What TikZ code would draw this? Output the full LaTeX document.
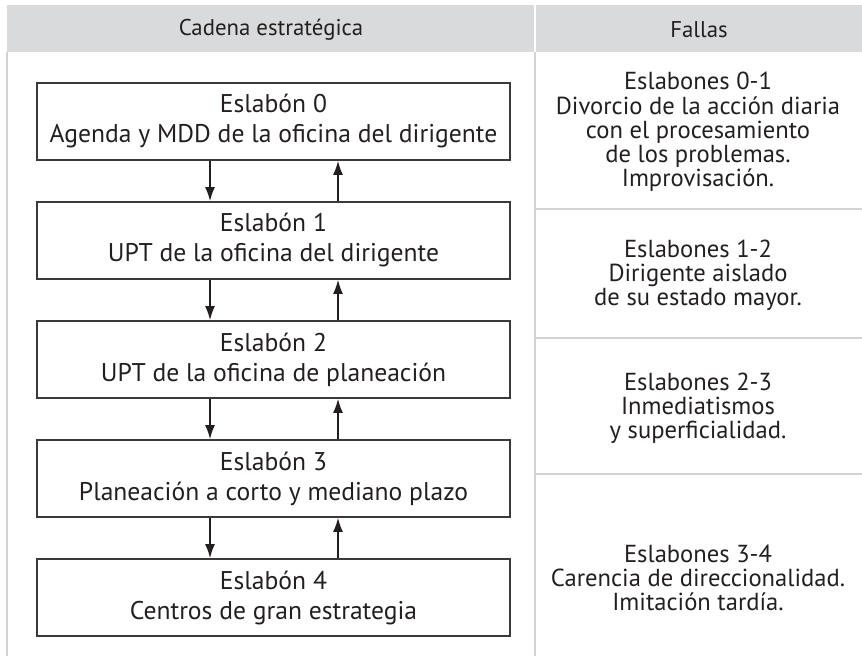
\documentclass[tikz,border=0pt]{standalone}
\usepackage{fontspec}
\setmainfont{PT Sans}
\usetikzlibrary{arrows.meta, positioning}
\definecolor{headgray}{HTML}{D9DADB}
\definecolor{rulegray}{HTML}{D2D3D4}
\definecolor{inkgray}{HTML}{231F20}
\definecolor{boxline}{HTML}{3A3A3A}

\begin{document}
\begin{tikzpicture}[
    x=0.5pt, y=-0.5pt,
    node distance=20.1pt,
    eslabon/.style={rectangle, draw=boxline, line width=0.9pt, minimum width=236.5pt, minimum height=38.5pt, align=center, font=\fontsize{12.8}{15}\selectfont, text=inkgray, inner sep=0pt},
    falla/.style={align=center, font=\fontsize{12.3}{12.1}\selectfont, text=inkgray},
    header/.style={font=\fontsize{11.4}{13}\selectfont, text=inkgray},
    arrow/.style={-{Latex[length=7pt, width=5pt]}, line width=0.7pt, draw=inkgray},
    rule/.style={draw=rulegray, line width=0.7pt},
  ]
  \useasboundingbox (0,0) rectangle (862,656);

  % header band
  \fill[headgray] (7,5) rectangle (534,52);
  \fill[headgray] (536,5) rectangle (862,52);
  \node[header] (head_chain) at (271,30) {Cadena estratégica};
  \node[header] (head_fail) at (699,30) {Fallas};

  % table rules
  \draw[rule] (7,52) -- (7,656);
  \draw[rule] (535,52) -- (535,656);
  \draw[rule] (535,209) -- (862,209);
  \draw[rule] (535,338) -- (862,338);
  \draw[rule] (535,474) -- (862,474);

  % chain of links
  \node[eslabon] (e0) at (273.5,121.5) {Eslabón 0\\Agenda y MDD de la oficina del dirigente};
  \node[eslabon, below=of e0] (e1) {Eslabón 1\\UPT de la oficina del dirigente};
  \node[eslabon, below=of e1] (e2) {Eslabón 2\\UPT de la oficina de planeación};
  \node[eslabon, below=of e2] (e3) {Eslabón 3\\Planeación a corto y mediano plazo};
  \node[eslabon, below=of e3] (e4) {Eslabón 4\\Centros de gran estrategia};

  \draw[arrow] ([xshift=-31.75pt]e0.south) -- ([xshift=-31.75pt]e1.north);
  \draw[arrow] ([xshift=32.25pt]e1.north) -- ([xshift=32.25pt]e0.south);
  \draw[arrow] ([xshift=-31.75pt]e1.south) -- ([xshift=-31.75pt]e2.north);
  \draw[arrow] ([xshift=32.25pt]e2.north) -- ([xshift=32.25pt]e1.south);
  \draw[arrow] ([xshift=-31.75pt]e2.south) -- ([xshift=-31.75pt]e3.north);
  \draw[arrow] ([xshift=32.25pt]e3.north) -- ([xshift=32.25pt]e2.south);
  \draw[arrow] ([xshift=-31.75pt]e3.south) -- ([xshift=-31.75pt]e4.north);
  \draw[arrow] ([xshift=32.25pt]e4.north) -- ([xshift=32.25pt]e3.south);

  % failures column
  \node[falla] (f01) at (698,132) {Eslabones 0-1\\Divorcio de la acción diaria\\con el procesamiento\\de los problemas.\\Improvisación.};
  \node[falla] (f12) at (698,275) {Eslabones 1-2\\Dirigente aislado\\de su estado mayor.};
  \node[falla] (f23) at (698,408) {Eslabones 2-3\\Inmediatismos\\y superficialidad.};
  \node[falla] (f34) at (698,578) {Eslabones 3-4\\Carencia de direccionalidad.\\Imitación tardía.};

\end{tikzpicture}
\end{document}
